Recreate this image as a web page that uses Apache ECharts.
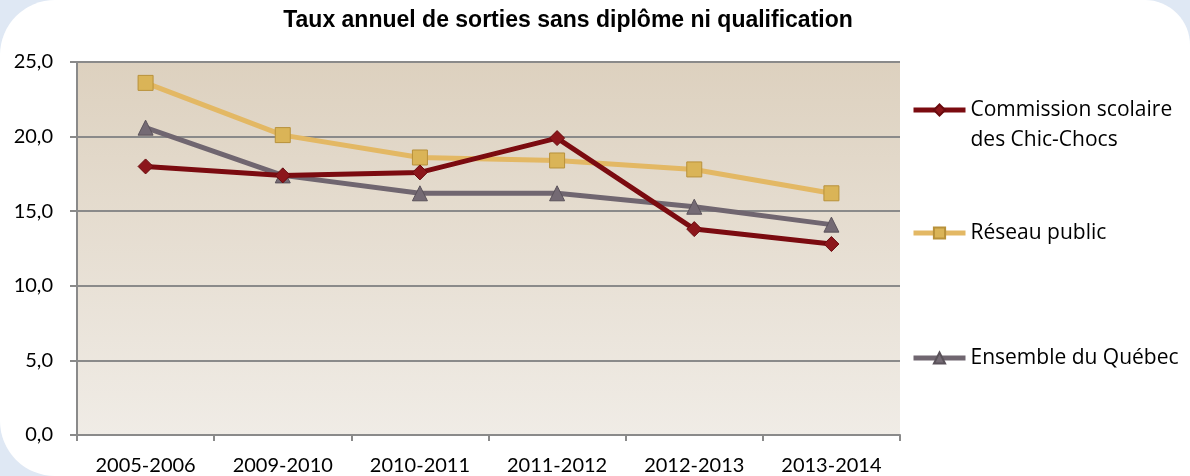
<!DOCTYPE html>
<html><head><meta charset="utf-8">
<script src="https://cdn.jsdelivr.net/npm/echarts@6/dist/echarts.min.js"></script>
<style>html,body{margin:0;padding:0;background:#fff}#c{width:1190px;height:476px}</style>
</head><body><div id="c"></div>
<script>
const categories = ['2005-2006','2009-2010','2010-2011','2011-2012','2012-2013','2013-2014'];
const commission = [18.0, 17.4, 17.6, 19.9, 13.8, 12.8];
const reseau = [23.6, 20.1, 18.6, 18.4, 17.8, 16.2];
const ensemble = [20.6, 17.4, 16.2, 16.2, 15.3, 14.1];
const seriesNames = ['Commission scolaire\ndes Chic-Chocs', 'Réseau public', 'Ensemble du Québec'];
const titleText = 'Taux annuel de sorties sans diplôme ni qualification';

const chart = echarts.init(document.getElementById('c'));
const labelFont = 'Lato';
const legendFont = 'Open Sans';
function grad(c1, c2){return new echarts.graphic.LinearGradient(0,0,0,1,[{offset:0,color:c1},{offset:1,color:c2}]);}
const legendText = {fontFamily:legendFont, fontSize:21, color:'#000', lineHeight:30};
const legendCommon = {orient:'vertical', left:911, padding:0, itemWidth:52, itemHeight:14, itemGap:0,
  lineStyle:{width:5}, textStyle:legendText};
chart.setOption({
  backgroundColor: '#dfe8f4',
  animation: false,
  graphic: [
    {type:'rect', z:-10, shape:{x:0,y:0,width:1190,height:476,r:[55,45,0,55]}, style:{fill:'#ffffff'}, silent:true}
  ],
  title: {text: titleText, left: 563, textAlign:'center', top: 4,
    textStyle:{fontFamily:'Liberation Sans', fontWeight:'bold', fontSize:23, color:'#000'}},
  grid: {left:77, right:290, top:62, bottom:41, show:true, borderWidth:0,
    backgroundColor: grad('#ddd1bf','#f0ece6')},
  legend: [
    Object.assign({data:[seriesNames[0]], top:65, formatter: n => '\n' + n}, legendCommon),
    Object.assign({data:[seriesNames[1]], top:218}, legendCommon),
    Object.assign({data:[seriesNames[2]], top:343}, legendCommon)
  ],
  xAxis: {type:'category', data:categories, boundaryGap:true,
    axisLine:{lineStyle:{color:'#8a8a8a', width:2}},
    axisTick:{show:true, length:6, alignWithLabel:false, lineStyle:{color:'#8a8a8a', width:2}},
    axisLabel:{fontFamily:labelFont, fontSize:20, color:'#000', margin:21},
    splitLine:{show:false}},
  yAxis: {type:'value', min:0, max:25, interval:5,
    axisLine:{show:true, lineStyle:{color:'#8a8a8a', width:2}},
    axisTick:{show:true, length:7, lineStyle:{color:'#8a8a8a', width:2}},
    axisLabel:{fontFamily:labelFont, fontSize:20, color:'#000', margin:24,
      formatter: v => v.toFixed(1).replace('.', ',')},
    splitLine:{show:true, lineStyle:{color:'#8a8a8a', width:2}}},
  series: [
    {name:seriesNames[0], type:'line', data:commission, symbol:'diamond', symbolSize:15,
      lineStyle:{color:'#7b0b10', width:5}, itemStyle:{color:'#8c161b', borderColor:'#6a0a0e', borderWidth:1}, z:4},
    {name:seriesNames[1], type:'line', data:reseau, symbol:'rect', symbolSize:15,
      lineStyle:{color:'#e3b864', width:5}, itemStyle:{color:'#dab457', borderColor:'#b8913a', borderWidth:1}, z:3},
    {name:seriesNames[2], type:'line', data:ensemble, symbol:'triangle', symbolSize:15,
      lineStyle:{color:'#706670', width:5}, itemStyle:{color:'#746a74', borderColor:'#5a525a', borderWidth:1}, z:2}
  ]
});
</script></body></html>
